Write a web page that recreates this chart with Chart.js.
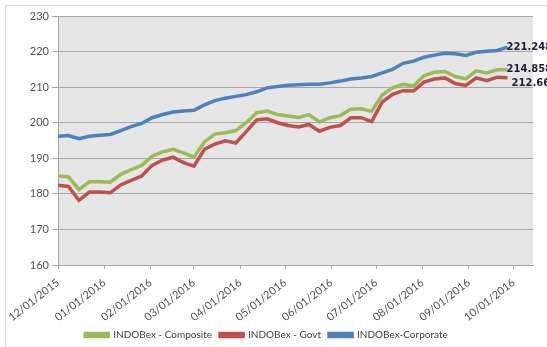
<!DOCTYPE html>
<html>
<head>
<meta charset="utf-8">
<script src="https://cdn.jsdelivr.net/npm/chart.js@4/dist/chart.umd.min.js"></script>
<style>
  html, body { margin: 0; padding: 0; background: #ffffff; }
  #wrap { width: 547px; height: 347px; position: relative; }
</style>
</head>
<body>
<div id="wrap"><canvas id="c" width="547" height="347"></canvas></div>
<script>
// Weekly index levels, INDOBex family
const dates = [
  '2015-12-01','2015-12-08','2015-12-15','2015-12-22','2015-12-29',
  '2016-01-05','2016-01-12','2016-01-19','2016-01-26',
  '2016-02-02','2016-02-09','2016-02-16','2016-02-23',
  '2016-03-01','2016-03-08','2016-03-15','2016-03-22','2016-03-29',
  '2016-04-05','2016-04-12','2016-04-19','2016-04-26',
  '2016-05-03','2016-05-10','2016-05-17','2016-05-24','2016-05-31',
  '2016-06-07','2016-06-14','2016-06-21','2016-06-28',
  '2016-07-05','2016-07-12','2016-07-19','2016-07-26',
  '2016-08-02','2016-08-09','2016-08-16','2016-08-23','2016-08-30',
  '2016-09-06','2016-09-13','2016-09-20','2016-09-27'
];

const composite = [
  185.0, 184.8, 181.2, 183.4, 183.4, 183.3, 185.5, 186.8, 188.0,
  190.6, 191.8, 192.5, 191.5, 190.3, 194.6, 196.8, 197.2, 197.8,
  200.0, 202.8, 203.3, 202.3, 201.9, 201.5, 202.3, 200.2, 201.4,
  202.0, 203.8, 203.9, 203.2, 207.8, 209.8, 210.8, 210.3, 213.2,
  214.2, 214.4, 213.0, 212.3, 214.6, 214.0, 214.9, 214.858
];

const govt = [
  182.4, 182.1, 178.2, 180.5, 180.5, 180.3, 182.5, 183.8, 185.0,
  188.0, 189.5, 190.3, 188.8, 187.8, 192.5, 194.0, 194.9, 194.3,
  197.5, 200.8, 201.1, 200.0, 199.2, 198.8, 199.5, 197.6, 198.7,
  199.2, 201.4, 201.4, 200.3, 205.8, 208.0, 209.0, 208.9, 211.4,
  212.3, 212.6, 211.0, 210.5, 212.6, 211.8, 212.8, 212.665
];

const corporate = [
  196.2, 196.4, 195.5, 196.2, 196.5, 196.7, 197.8, 198.9, 199.8,
  201.4, 202.3, 203.0, 203.3, 203.5, 205.0, 206.2, 206.9, 207.4,
  207.9, 208.7, 209.8, 210.2, 210.5, 210.7, 210.8, 210.8, 211.2,
  211.7, 212.3, 212.6, 213.0, 214.0, 215.0, 216.7, 217.3, 218.4,
  219.0, 219.5, 219.4, 218.9, 219.8, 220.1, 220.3, 221.248
];

const seriesNames = ['INDOBex - Composite', 'INDOBex - Govt', 'INDOBex-Corporate'];

const monthTicks = [
  '12/01/2015','01/01/2016','02/01/2016','03/01/2016','04/01/2016','05/01/2016',
  '06/01/2016','07/01/2016','08/01/2016','09/01/2016','10/01/2016'
];

const yMin = 160, yMax = 230, yStep = 10;

// Day offsets from the first observation, so the x axis is a true date axis
const DAY = 86400000;
const origin = Date.UTC(2015, 11, 1);
const isoToDay = s => {
  const [y, m, d] = s.split('-').map(Number);
  return (Date.UTC(y, m - 1, d) - origin) / DAY;
};
const usToDay = s => {
  const [m, d, y] = s.split('/').map(Number);
  return (Date.UTC(y, m - 1, d) - origin) / DAY;
};
const tickDays = monthTicks.map(usToDay);
const tickLabelByDay = {};
monthTicks.forEach((t, i) => { tickLabelByDay[tickDays[i]] = t; });

const toPoints = vals => vals.map((v, i) => ({ x: isoToDay(dates[i]), y: v }));

const colors = ['#9BBB59', '#C0504D', '#4F81BD'];
const labelOffsets = [[0, 0], [5, 6], [0, 0]];
const FONT = 'Lato, "Open Sans", sans-serif';

// Light frame around the whole figure
const framePlugin = {
  id: 'frame',
  beforeDraw(chart) {
    const ctx = chart.ctx;
    ctx.save();
    ctx.fillStyle = '#ffffff';
    ctx.fillRect(0, 0, chart.width, chart.height);
    ctx.strokeStyle = '#D4D4D4';
    ctx.lineWidth = 1;
    ctx.beginPath();
    ctx.moveTo(5.5, chart.height + 2);
    ctx.lineTo(5.5, 5.5);
    ctx.lineTo(chart.width + 2, 5.5);
    ctx.stroke();
    ctx.restore();
  }
};

// Grey plot area
const plotBgPlugin = {
  id: 'plotBg',
  beforeDraw(chart) {
    const { ctx, chartArea: a } = chart;
    ctx.save();
    ctx.fillStyle = '#E6E6E6';
    ctx.fillRect(a.left, a.top, a.right - a.left, a.bottom - a.top);
    ctx.restore();
  }
};

// Value of the last observation written next to each line end
const endLabelPlugin = {
  id: 'endLabels',
  afterDatasetsDraw(chart) {
    const ctx = chart.ctx;
    ctx.save();
    ctx.font = 'bold 10px "DejaVu Sans", sans-serif';
    ctx.textAlign = 'left';
    ctx.textBaseline = 'middle';
    ctx.fillStyle = '#1B1F3A';
    chart.data.datasets.forEach((ds, i) => {
      const meta = chart.getDatasetMeta(i);
      const last = meta.data[meta.data.length - 1];
      const v = ds.data[ds.data.length - 1].y;
      const [dx, dy] = labelOffsets[i];
      ctx.fillText(String(v), last.x - 1 + dx, last.y + dy);
    });
    ctx.restore();
  }
};

new Chart(document.getElementById('c'), {
  type: 'line',
  data: {
    datasets: [composite, govt, corporate].map((vals, i) => ({
      label: seriesNames[i],
      data: toPoints(vals),
      borderColor: colors[i],
      backgroundColor: colors[i],
      borderWidth: 3.5,
      pointRadius: 0,
      tension: 0,
      fill: false
    }))
  },
  options: {
    responsive: false,
    animation: false,
    events: [],
    layout: { padding: { left: 0, right: 14, top: 16, bottom: -3 } },
    plugins: {
      tooltip: { enabled: false },
      legend: {
        position: 'bottom',
        labels: {
          boxWidth: 23,
          boxHeight: 3,
          padding: 8,
          color: '#404040',
          font: { family: FONT, size: 10 }
        }
      }
    },
    scales: {
      x: {
        type: 'linear',
        min: 0,
        max: 318,
        afterFit(scale) { scale.height = 57; },
        afterBuildTicks(scale) { scale.ticks = tickDays.map(v => ({ value: v })); },
        grid: {
          drawOnChartArea: false,
          drawTicks: true,
          tickLength: 4,
          color: '#A6A6A6'
        },
        border: { color: '#A6A6A6' },
        ticks: {
          autoSkip: false,
          minRotation: 38,
          maxRotation: 38,
          padding: 7,
          color: '#505050',
          font: { family: FONT, size: 11 },
          callback: v => tickLabelByDay[v] || ''
        }
      },
      y: {
        min: yMin,
        max: yMax,
        afterFit(scale) { scale.width = 58; },
        grid: {
          color: '#A6A6A6',
          tickLength: 6,
          drawTicks: true
        },
        border: { color: '#A6A6A6' },
        ticks: {
          stepSize: yStep,
          padding: 3,
          color: '#505050',
          font: { family: FONT, size: 11 }
        }
      }
    }
  },
  plugins: [framePlugin, plotBgPlugin, endLabelPlugin]
});
</script>
</body>
</html>
